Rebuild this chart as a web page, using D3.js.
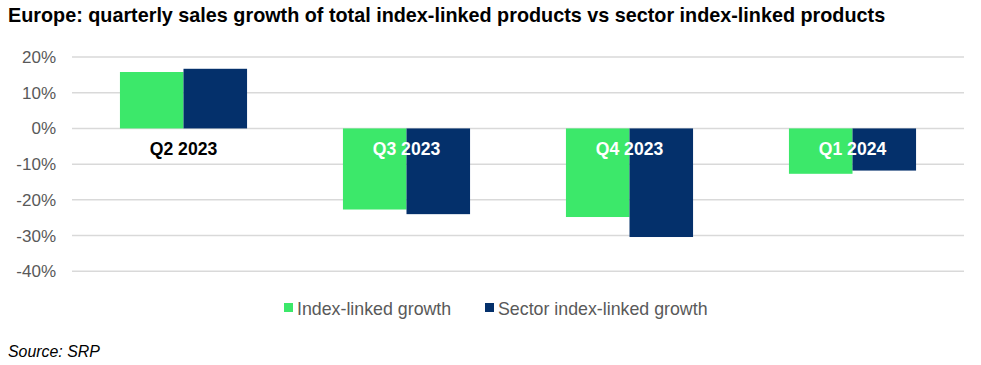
<!doctype html>
<html lang="en">

<head>
  <meta charset="UTF-8">
  <title>Europe quarterly sales growth</title>
  <style type="text/css">
    body { margin: 0; background: #fff; }
    svg { display: block; font-family: Arial, "Liberation Sans", sans-serif; }
  </style>
  <script src="https://cdn.jsdelivr.net/npm/d3@7"></script>
</head>

<body>
  <svg width="981" height="365"></svg>
  <script>
    let quarters = ['Q2 2023', 'Q3 2023', 'Q4 2023', 'Q1 2024']
    let indexLinked = [15.8, -22.7, -24.8, -12.7]
    let sectorIndexLinked = [16.7, -24.0, -30.4, -11.8]
    let seriesNames = ['Index-linked growth', 'Sector index-linked growth']
    let seriesColors = ['#3ce86a', '#04306b']
    let yTicks = [20, 10, 0, -10, -20, -30, -40]

    let svg = d3.select('svg')

    svg.append('text')
      .attr('x', 8).attr('y', 22)
      .attr('font-size', 19.8).attr('font-weight', 'bold')
      .attr('fill', '#000')
      .text('Europe: quarterly sales growth of total index-linked products vs sector index-linked products')

    let x = d3.scaleBand().domain(quarters).range([72, 964]).paddingInner(0.43).paddingOuter(0.215)
    let xs = d3.scaleBand().domain([0, 1]).range([0, x.bandwidth()])
    let y = d3.scaleLinear().domain([-40, 20]).range([271.3, 57])

    // gridlines
    svg.append('g')
      .selectAll('line')
      .data(yTicks)
      .enter().append('line')
      .attr('x1', 72).attr('x2', 964)
      .attr('y1', d => y(d)).attr('y2', d => y(d))
      .attr('stroke', '#d9d9d9').attr('stroke-width', 1.5)

    let yAxis = svg.append('g')
      .attr('transform', 'translate(56,0)')
      .call(d3.axisLeft(y).tickValues(yTicks).tickSize(0).tickPadding(0).tickFormat(d => d + '%'))
    yAxis.select('.domain').remove()
    yAxis.selectAll('text').attr('font-size', 17).attr('fill', '#595959').attr('font-family', 'Arial, "Liberation Sans", sans-serif')

    let rows = quarters.map((q, i) => ({ q: q, vals: [indexLinked[i], sectorIndexLinked[i]] }))

    let groups = svg.append('g')
      .selectAll('g')
      .data(rows)
      .enter().append('g')
      .attr('transform', d => 'translate(' + x(d.q) + ',0)')

    groups.selectAll('rect')
      .data(d => d.vals.map((v, k) => ({ v: v, k: k })))
      .enter().append('rect')
      .attr('x', d => xs(d.k))
      .attr('width', xs.bandwidth())
      .attr('y', d => Math.min(y(0), y(d.v)))
      .attr('height', d => Math.abs(y(d.v) - y(0)))
      .attr('fill', d => seriesColors[d.k])

    groups.append('text')
      .attr('x', x.bandwidth() / 2)
      .attr('y', y(0) + 26.5)
      .attr('text-anchor', 'middle')
      .attr('font-size', 17.6).attr('font-weight', 'bold')
      .attr('fill', d => d.vals[0] < 0 ? '#fff' : '#000')
      .text(d => d.q)

    // legend
    let legendX = [284, 485]
    let legend = svg.append('g')
      .selectAll('g')
      .data(seriesNames)
      .enter().append('g')
      .attr('transform', (d, i) => 'translate(' + legendX[i] + ',303)')
    legend.append('rect')
      .attr('width', 9).attr('height', 9)
      .attr('fill', (d, i) => seriesColors[i])
    legend.append('text')
      .attr('x', 13).attr('y', 11.5)
      .attr('font-size', 17.8).attr('fill', '#595959')
      .text(d => d)

    svg.append('text')
      .attr('x', 8).attr('y', 357)
      .attr('font-size', 15.9).attr('font-style', 'italic')
      .attr('fill', '#000')
      .text('Source: SRP')
  </script>
</body>

</html>
